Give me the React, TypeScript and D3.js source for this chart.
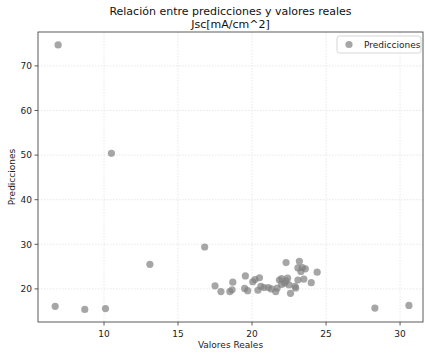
import * as d3 from "d3";

const reales = [
  6.9, 10.5, 16.8, 13.1, 6.7, 8.7, 10.1, 28.3, 30.6,
  17.5, 17.9, 18.5, 18.65, 18.7, 19.55, 19.5, 19.7, 20.05, 20.2,
  20.5, 20.4, 20.6, 20.8, 21.1, 21.3, 21.6, 21.7, 21.85, 22.0,
  22.2, 22.4, 22.5, 22.6, 22.95, 23.1, 23.1, 23.6, 23.3, 23.5,
  24.0, 24.4, 22.3, 23.2, 22.0, 22.3, 23.4, 22.9,
];
const predicciones = [
  74.7, 50.4, 29.4, 25.5, 16.1, 15.4, 15.6, 15.7, 16.3,
  20.7, 19.4, 19.4, 19.8, 21.5, 22.9, 20.1, 19.6, 21.6, 22.1,
  22.5, 19.7, 20.6, 20.3, 20.3, 20.0, 19.4, 20.2, 22.0, 22.3,
  21.3, 22.4, 20.9, 19.0, 20.2, 22.0, 24.7, 24.5, 23.9, 22.2,
  21.4, 23.75, 25.9, 26.2, 21.0, 21.8, 24.8, 20.6,
];
const xTicks = [10, 15, 20, 25, 30];
const yTicks = [20, 30, 40, 50, 60, 70];

const W = 425;
const H = 353;
const m = { left: 38, right: 423, top: 32, bottom: 322 };
const font = "DejaVu Sans, sans-serif";

export default function App() {
  const x = d3.scaleLinear().domain([5.54, 31.55]).range([m.left, m.right]);
  const y = d3.scaleLinear().domain([12.58, 77.6]).range([m.bottom, m.top]);
  const cx = (m.left + m.right) / 2;
  const cy = (m.top + m.bottom) / 2;

  return (
    <svg width={W} height={H} style={{ position: "absolute", left: 0, top: 0, fontFamily: font }}>
      <rect width={W} height={H} fill="#fff" />
      {/* grid */}
      {xTicks.map((t) => (
        <line key={"gx" + t} x1={x(t)} x2={x(t)} y1={m.top} y2={m.bottom} stroke="#e2e2e2" strokeWidth={0.8} strokeDasharray="1.5,1.5" />
      ))}
      {yTicks.map((t) => (
        <line key={"gy" + t} x1={m.left} x2={m.right} y1={y(t)} y2={y(t)} stroke="#e2e2e2" strokeWidth={0.8} strokeDasharray="1.5,1.5" />
      ))}
      {/* puntos */}
      {reales.map((r, i) => (
        <circle key={i} cx={x(r)} cy={y(predicciones[i])} r={3.6} fill="#808080" fillOpacity={0.7} />
      ))}
      {/* marco */}
      <rect x={m.left} y={m.top} width={m.right - m.left} height={m.bottom - m.top} fill="none" stroke="#333" strokeWidth={0.8} />
      {/* ticks */}
      {xTicks.map((t) => (
        <g key={"tx" + t}>
          <line x1={x(t)} x2={x(t)} y1={m.bottom} y2={m.bottom + 3.5} stroke="#333" strokeWidth={0.8} />
          <text x={x(t)} y={m.bottom + 15} textAnchor="middle" fontSize={9} fill="#222">{t}</text>
        </g>
      ))}
      {yTicks.map((t) => (
        <g key={"ty" + t}>
          <line x1={m.left - 3.5} x2={m.left} y1={y(t)} y2={y(t)} stroke="#333" strokeWidth={0.8} />
          <text x={m.left - 6} y={y(t) + 3.3} textAnchor="end" fontSize={9} fill="#222">{t}</text>
        </g>
      ))}
      {/* etiquetas */}
      <text x={cx} y={348} textAnchor="middle" fontSize={9} fill="#222">Valores Reales</text>
      <text transform={`translate(15,${cy}) rotate(-90)`} textAnchor="middle" fontSize={9} fill="#222">Predicciones</text>
      <text x={cx} y={15} textAnchor="middle" fontSize={11} fill="#111">Relación entre predicciones y valores reales</text>
      <text x={cx} y={28} textAnchor="middle" fontSize={11} fill="#111">Jsc[mA/cm^2]</text>
      {/* leyenda */}
      <rect x={337} y={36} width={84} height={17} rx={2.5} fill="#fff" fillOpacity={0.8} stroke="#ccc" strokeWidth={0.8} />
      <circle cx={349} cy={44.5} r={3.6} fill="#808080" fillOpacity={0.7} />
      <text x={364} y={47.8} fontSize={9} fill="#222">Predicciones</text>
    </svg>
  );
}
